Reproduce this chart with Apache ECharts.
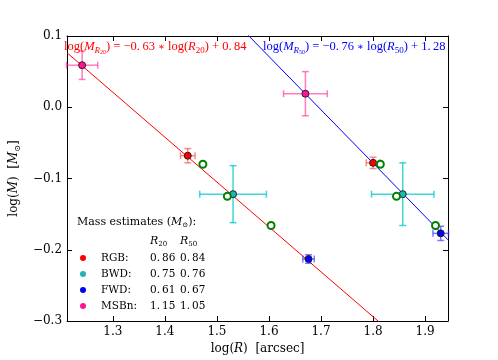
<!DOCTYPE html>
<html>
<head>
<meta charset="utf-8">
<script src="https://cdn.jsdelivr.net/npm/echarts@6/dist/echarts.min.js"></script>
<style>
  html, body { margin: 0; padding: 0; background: #fff; }
  #chart { width: 498px; height: 360px; }
</style>
</head>
<body>
<div id="chart"></div>
<script>
// tick labels
var xTicks = [1.3, 1.4, 1.5, 1.6, 1.7, 1.8, 1.9];
var yTicks = [-0.3, -0.2, -0.1, 0.0, 0.1];

// [logR, logM, errR, errM]; first R20, then R50
var rgb = [[1.444, -0.068, 0.014, 0.010], [1.800, -0.078, 0.013, 0.008]];
var bwd = [[1.531, -0.122, 0.064, 0.040], [1.857, -0.122, 0.060, 0.044]];
var fwd = [[1.676, -0.213, 0.011, 0.006], [1.930, -0.177, 0.015, 0.010]];
var msbn = [[1.241, 0.059, 0.030, 0.020], [1.670, 0.019, 0.042, 0.031]];

// open green circles
var greenR20 = [[1.473, -0.080], [1.520, -0.125], [1.604, -0.166]];
var greenR50 = [[1.814, -0.080], [1.845, -0.125], [1.920, -0.166]];

// fitted lines [slope, intercept]
var fit20 = [-0.63, 0.84];
var fit50 = [-0.748, 1.268];

// mass table
var legendNames = ['RGB', 'BWD', 'FWD', 'MSBn'];
var legendColors = ['#ff0000', '#1fb5b5', '#0000ff', '#ff1493'];
var massR20 = ['0.\u200986', '0.\u200975', '0.\u200961', '1.\u200915'];
var massR50 = ['0.\u200984', '0.\u200976', '0.\u200967', '1.\u200905'];

var xMin = 1.212, xMax = 1.944;
var FONT = 'DejaVu Serif';
var EQFONT = 'Liberation Serif';

function fitLine (f) {
  return [[xMin, f[0] * xMin + f[1]], [xMax, f[0] * xMax + f[1]]];
}

function fmt (v) {
  var s = Math.abs(v) < 1e-9 ? '0.0' : v.toFixed(1);
  return s.replace('-', '\u2212');
}

function errorBars (data, color) {
  return {
    type: 'custom',
    data: data,
    encode: { x: 0, y: 1 },
    z: 3,
    renderItem: function (params, api) {
      var x = api.value(0), y = api.value(1), ex = api.value(2), ey = api.value(3);
      var l = api.coord([x - ex, y]), r = api.coord([x + ex, y]);
      var t = api.coord([x, y + ey]), b = api.coord([x, y - ey]);
      var c = 3.5;
      var st = { stroke: color, lineWidth: 1.5 };
      function ln (x1, y1, x2, y2) {
        return { type: 'line', shape: { x1: x1, y1: y1, x2: x2, y2: y2 }, style: st };
      }
      return {
        type: 'group',
        children: [
          ln(l[0], l[1], r[0], r[1]),
          ln(t[0], t[1], b[0], b[1]),
          ln(l[0], l[1] - c, l[0], l[1] + c),
          ln(r[0], r[1] - c, r[0], r[1] + c),
          ln(t[0] - c, t[1], t[0] + c, t[1]),
          ln(b[0] - c, b[1], b[0] + c, b[1])
        ]
      };
    }
  };
}

function points (data, color) {
  return {
    type: 'scatter',
    data: data.map(function (d) { return [d[0], d[1]]; }),
    symbol: 'circle',
    symbolSize: 7,
    z: 4,
    itemStyle: { color: color, borderColor: '#222', borderWidth: 1, opacity: 1 }
  };
}

function rings (data) {
  return {
    type: 'scatter',
    data: data,
    symbol: 'circle',
    symbolSize: 7,
    z: 5,
    itemStyle: { color: '#fff', borderColor: '#008000', borderWidth: 2, opacity: 1 }
  };
}

var axisRich = {
  n: { fontFamily: FONT, fontSize: 12, lineHeight: 16 },
  i: { fontFamily: FONT, fontSize: 12, lineHeight: 16, fontStyle: 'italic' },
  s: { fontFamily: FONT, fontSize: 8, lineHeight: 8, verticalAlign: 'bottom', fontStyle: 'italic' }
};

var eqRich = {
  n: { fontFamily: EQFONT, fontSize: 12.5, lineHeight: 16 },
  i: { fontFamily: EQFONT, fontSize: 12.5, lineHeight: 16, fontStyle: 'italic' },
  op: { fontFamily: FONT, fontSize: 10, lineHeight: 16 },
  s: { fontFamily: EQFONT, fontSize: 9, lineHeight: 8, verticalAlign: 'bottom', fontStyle: 'italic' },
  sn: { fontFamily: EQFONT, fontSize: 9, lineHeight: 8, verticalAlign: 'bottom' },
  ss: { fontFamily: EQFONT, fontSize: 6, lineHeight: 5, verticalAlign: 'bottom' }
};

function eqText (f, r50) {
  var sub = r50 ? '50' : '20';
  var a = Math.abs(f[0]).toFixed(2).replace('.', '.\u2009');
  var b = f[1].toFixed(2).replace('.', '.\u2009');
  return '{n|log(}{i|M}{s|R}{ss|' + sub + '}{n|) = \u2212' + a + ' }{op|\u2217}{n| log(}{i|R}{sn|' + sub + '}{n|) + ' + b + '}';
}

var legendRich = {
  n: { fontFamily: FONT, fontSize: 11, lineHeight: 14 },
  i: { fontFamily: FONT, fontSize: 11, lineHeight: 14, fontStyle: 'italic' },
  s: { fontFamily: FONT, fontSize: 7, lineHeight: 7, verticalAlign: 'bottom' }
};
var rowFont = '10.5px ' + FONT;

var graphics = [
  { type: 'text', x: 64, y: 39, z: 10, style: { text: eqText([-0.63, 0.84], false), rich: eqRich, fill: '#ff0000' } },
  { type: 'text', x: 263, y: 39, z: 10, style: { text: eqText([-0.76, 1.28], true), rich: eqRich, fill: '#0000ff' } },
  { type: 'text', x: 77, y: 215, z: 10, style: { text: '{n|Mass estimates (}{i|M}{s|\u2299}{n|):}', rich: legendRich, fill: '#000' } },
  { type: 'text', x: 150, y: 234, z: 10, style: { text: '{i|R}{s|20}', rich: legendRich, fill: '#000' } },
  { type: 'text', x: 180, y: 234, z: 10, style: { text: '{i|R}{s|50}', rich: legendRich, fill: '#000' } }
];
legendNames.forEach(function (name, k) {
  var cy = 258 + k * 16;
  graphics.push({ type: 'circle', z: 10, shape: { cx: 83, cy: cy, r: 3 }, style: { fill: legendColors[k] } });
  graphics.push({ type: 'text', x: 101, y: cy, z: 10, style: { text: name + ':', font: rowFont, fill: '#000', verticalAlign: 'middle' } });
  graphics.push({ type: 'text', x: 150, y: cy, z: 10, style: { text: massR20[k], font: rowFont, fill: '#000', verticalAlign: 'middle' } });
  graphics.push({ type: 'text', x: 180, y: cy, z: 10, style: { text: massR50[k], font: rowFont, fill: '#000', verticalAlign: 'middle' } });
});

var axisLineStyle = { show: true, onZero: false, lineStyle: { color: '#000', width: 1 } };

var option = {
  animation: false,
  backgroundColor: '#fff',
  grid: { left: 63, right: 50, top: 36, bottom: 36, containLabel: false },
  xAxis: [
    {
      type: 'value', min: xMin, max: xMax, position: 'bottom',
      axisLine: axisLineStyle,
      axisTick: { inside: true, length: 5, customValues: xTicks, lineStyle: { color: '#000' } },
      axisLabel: { customValues: xTicks, formatter: fmt, fontFamily: FONT, fontSize: 12, color: '#000', margin: 5 },
      splitLine: { show: false },
      name: '{n|log(}{i|R}{n|)  [arcsec]}',
      nameLocation: 'middle', nameGap: 20,
      nameTextStyle: { rich: axisRich, color: '#000' }
    },
    {
      type: 'value', min: xMin, max: xMax, position: 'top',
      axisLine: axisLineStyle,
      axisTick: { inside: true, length: 5, customValues: xTicks, lineStyle: { color: '#000' } },
      axisLabel: { show: false },
      splitLine: { show: false }
    }
  ],
  yAxis: [
    {
      type: 'value', min: -0.3, max: 0.1, position: 'left',
      axisLine: axisLineStyle,
      axisTick: { inside: true, length: 5, customValues: yTicks, lineStyle: { color: '#000' } },
      axisLabel: { customValues: yTicks, formatter: fmt, fontFamily: FONT, fontSize: 12, color: '#000', margin: 5 },
      splitLine: { show: false },
      name: '{n|log(}{i|M}{n|)  [}{i|M}{s|\u2299}{n|]}',
      nameLocation: 'middle', nameGap: 40, nameRotate: 90,
      nameTextStyle: { rich: axisRich, color: '#000' }
    },
    {
      type: 'value', min: -0.3, max: 0.1, position: 'right',
      axisLine: axisLineStyle,
      axisTick: { inside: true, length: 5, customValues: yTicks, lineStyle: { color: '#000' } },
      axisLabel: { show: false },
      splitLine: { show: false }
    }
  ],
  series: [
    { type: 'line', data: fitLine(fit20), symbol: 'none', z: 1, lineStyle: { color: '#ff0000', width: 1 } },
    { type: 'line', data: fitLine(fit50), symbol: 'none', z: 1, lineStyle: { color: '#0000ff', width: 1 } },
    errorBars(rgb, 'rgba(255,60,60,0.6)'),
    errorBars(bwd, 'rgba(0,200,200,0.75)'),
    errorBars(fwd, 'rgba(40,40,255,0.6)'),
    errorBars(msbn, 'rgba(255,40,150,0.6)'),
    points(rgb, '#ff0000'),
    points(bwd, '#1fb5b5'),
    points(fwd, '#0000ff'),
    points(msbn, '#ff1493'),
    rings(greenR20),
    rings(greenR50)
  ],
  graphic: graphics
};

var chart = echarts.init(document.getElementById('chart'));
chart.setOption(option);
</script>
</body>
</html>
